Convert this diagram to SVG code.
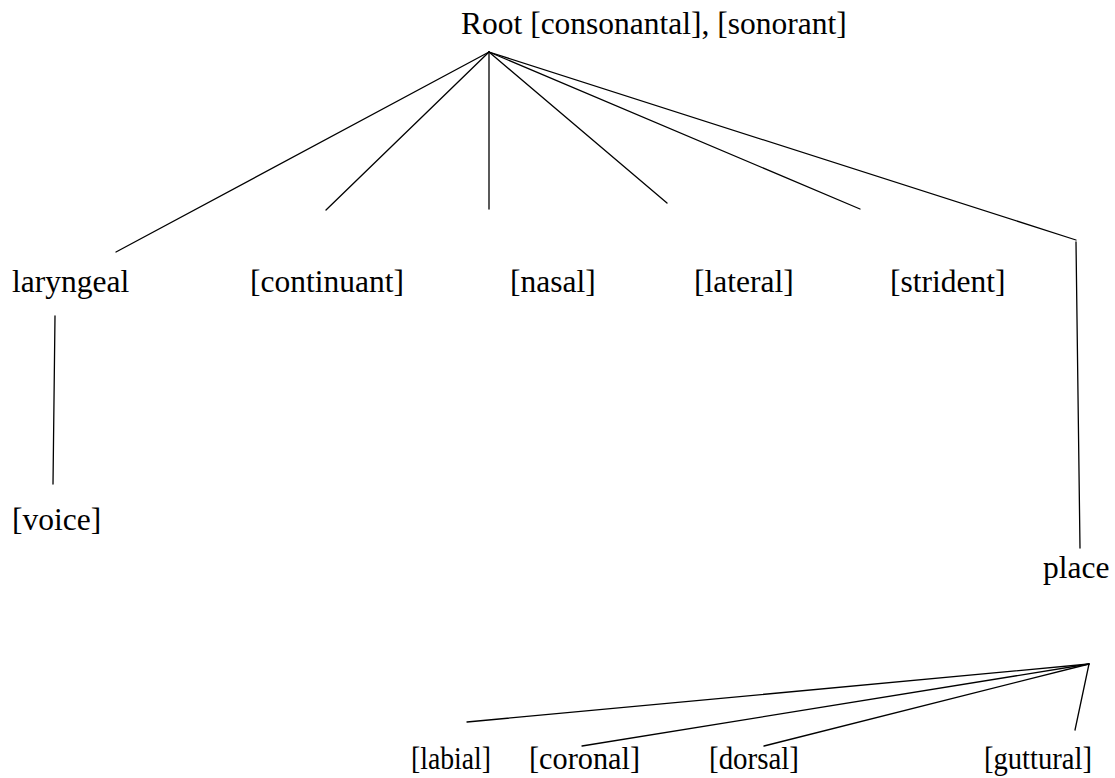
<svg xmlns="http://www.w3.org/2000/svg" width="1115" height="778" viewBox="0 0 1115 778">
  <style>
    .lbl { font-family: "Liberation Serif", "Times New Roman", serif; font-size: 31.5px; fill: #000; }
    .edge { stroke: #000; stroke-width: 1.3; fill: none; stroke-linecap: round; }
  </style>
  <rect width="1115" height="778" fill="#fff"/>

  <!-- feature tree connectors -->
  <g id="connectors">
    <!-- Root fan -->
    <line class="edge" x1="489" y1="52" x2="116" y2="252"/>
    <line class="edge" x1="489" y1="52" x2="326" y2="210"/>
    <line class="edge" x1="489" y1="52" x2="489" y2="209"/>
    <line class="edge" x1="489" y1="52" x2="667" y2="203"/>
    <line class="edge" x1="489" y1="52" x2="860" y2="209"/>
    <line class="edge" x1="489" y1="52" x2="1076" y2="240"/>
    <line class="edge" x1="1076" y1="242" x2="1080" y2="548"/>
    <!-- laryngeal -> voice -->
    <line class="edge" x1="55" y1="316" x2="53" y2="484"/>
    <!-- place fan -->
    <line class="edge" x1="1089" y1="664" x2="467" y2="722"/>
    <line class="edge" x1="1089" y1="664" x2="582" y2="746"/>
    <line class="edge" x1="1089" y1="664" x2="764" y2="746"/>
    <line class="edge" x1="1089" y1="664" x2="1075" y2="730"/>
  </g>

  <g id="root"><text class="lbl" x="461" y="34">Root [consonantal], [sonorant]</text></g>
  <g id="laryngeal"><text class="lbl" x="12" y="292">laryngeal</text></g>
  <g id="continuant"><text class="lbl" x="250" y="292">[continuant]</text></g>
  <g id="nasal"><text class="lbl" x="510" y="292">[nasal]</text></g>
  <g id="lateral"><text class="lbl" x="694" y="292">[lateral]</text></g>
  <g id="strident"><text class="lbl" x="890" y="292">[strident]</text></g>
  <g id="voice"><text class="lbl" x="12" y="530">[voice]</text></g>
  <g id="place"><text class="lbl" x="1043" y="578">place</text></g>
  <!-- bottom row is set slightly condensed -->
  <g id="labial"><text class="lbl" x="411" y="769" textLength="80" lengthAdjust="spacingAndGlyphs">[labial]</text></g>
  <g id="coronal"><text class="lbl" x="529" y="769" textLength="111" lengthAdjust="spacingAndGlyphs">[coronal]</text></g>
  <g id="dorsal"><text class="lbl" x="709" y="769" textLength="90" lengthAdjust="spacingAndGlyphs">[dorsal]</text></g>
  <g id="guttural"><text class="lbl" x="984" y="769" textLength="108" lengthAdjust="spacingAndGlyphs">[guttural]</text></g>
</svg>
